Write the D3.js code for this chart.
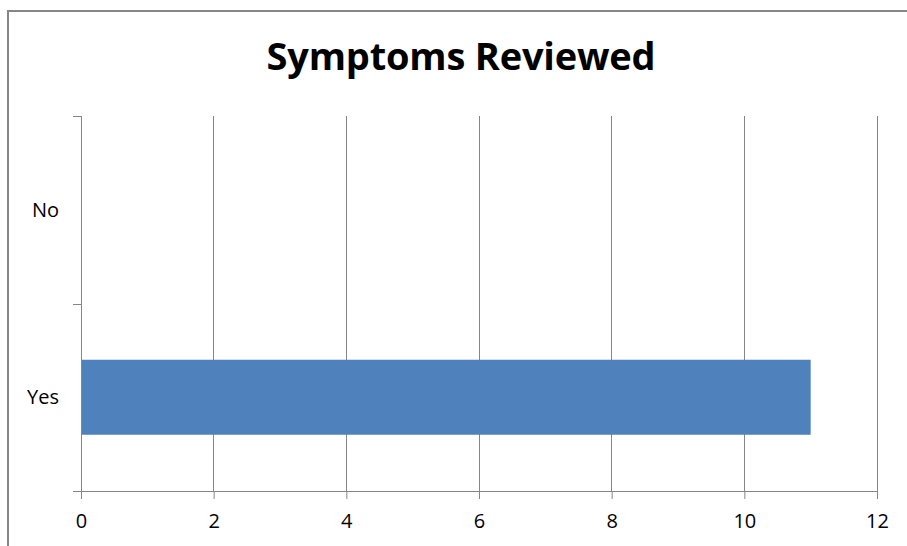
<!DOCTYPE html>
<html>
<head>
<meta charset="utf-8">
<script src="https://cdn.jsdelivr.net/npm/d3@7"></script>
<style>
  html, body { margin: 0; padding: 0; background: #fff; }
  svg { display: block; }
</style>
</head>
<body>
<svg id="chart" width="907" height="546"></svg>
<script>
// Survey answers and counts
const categories = ["No", "Yes"];
const counts = [0, 11];
const xTicks = [0, 2, 4, 6, 8, 10, 12];
const title = "Symptoms Reviewed";

const svg = d3.select("#chart");
const W = 907, H = 546;
const margin = { left: 81, right: 30, top: 116, bottom: 55 };
const plotRight = 877, plotBottom = 491;
const font = "'Open Sans', Lato, sans-serif";

// Chart frame
svg.append("rect")
  .attr("x", 8).attr("y", 11)
  .attr("width", W + 20).attr("height", H + 20)
  .attr("fill", "#fff")
  .attr("stroke", "#868686").attr("stroke-width", 2);

// Title
svg.append("text")
  .attr("x", 461).attr("y", 70)
  .attr("text-anchor", "middle")
  .attr("font-family", font)
  .attr("font-weight", "bold")
  .attr("font-size", 38)
  .attr("letter-spacing", -0.2)
  .attr("fill", "#000")
  .text(title);

const x = d3.scaleLinear().domain([0, 12]).range([margin.left, plotRight]);
const y = d3.scaleBand().domain(categories).range([margin.top, plotBottom])
  .paddingInner(0.6).paddingOuter(0.3);

// Vertical gridlines
svg.append("g")
  .selectAll("line")
  .data(xTicks.slice(1))
  .join("line")
  .attr("x1", d => x(d)).attr("x2", d => x(d))
  .attr("y1", margin.top).attr("y2", plotBottom)
  .attr("stroke", "#868686").attr("stroke-width", 1)
  .attr("shape-rendering", "crispEdges");

// Bars
svg.append("g")
  .selectAll("rect")
  .data(categories.map((c, i) => ({ c, v: counts[i] })))
  .join("rect")
  .attr("x", x(0))
  .attr("y", d => y(d.c))
  .attr("width", d => x(d.v) - x(0))
  .attr("height", y.bandwidth())
  .attr("fill", "#4F81BD");

// X axis
const xAxis = svg.append("g")
  .attr("transform", `translate(0,${plotBottom})`)
  .call(d3.axisBottom(x).tickValues(xTicks).tickSize(8).tickPadding(15));
xAxis.select(".domain").attr("stroke", "#868686").attr("d", `M${x(0) - 8},0.5H${plotRight}`);
xAxis.selectAll(".tick line").attr("stroke", "#868686");
xAxis.selectAll("text")
  .attr("font-family", font).attr("font-size", 20).attr("fill", "#000");

// Y axis with boundary ticks between categories
const yAxis = svg.append("g").attr("transform", `translate(${margin.left},0)`);
yAxis.append("line")
  .attr("x1", 0.5).attr("x2", 0.5)
  .attr("y1", margin.top).attr("y2", plotBottom)
  .attr("stroke", "#868686");
const step = (plotBottom - margin.top) / categories.length;
yAxis.selectAll(".btick")
  .data(d3.range(categories.length + 1))
  .join("line")
  .attr("x1", -8).attr("x2", 0)
  .attr("y1", i => Math.round(margin.top + i * step) + 0.5)
  .attr("y2", i => Math.round(margin.top + i * step) + 0.5)
  .attr("stroke", "#868686");
yAxis.selectAll(".lbl")
  .data(categories)
  .join("text")
  .attr("x", -22)
  .attr("y", d => y(d) + y.bandwidth() / 2)
  .attr("dy", "0.35em")
  .attr("text-anchor", "end")
  .attr("font-family", font).attr("font-size", 20).attr("fill", "#000")
  .text(d => d);
</script>
</body>
</html>
